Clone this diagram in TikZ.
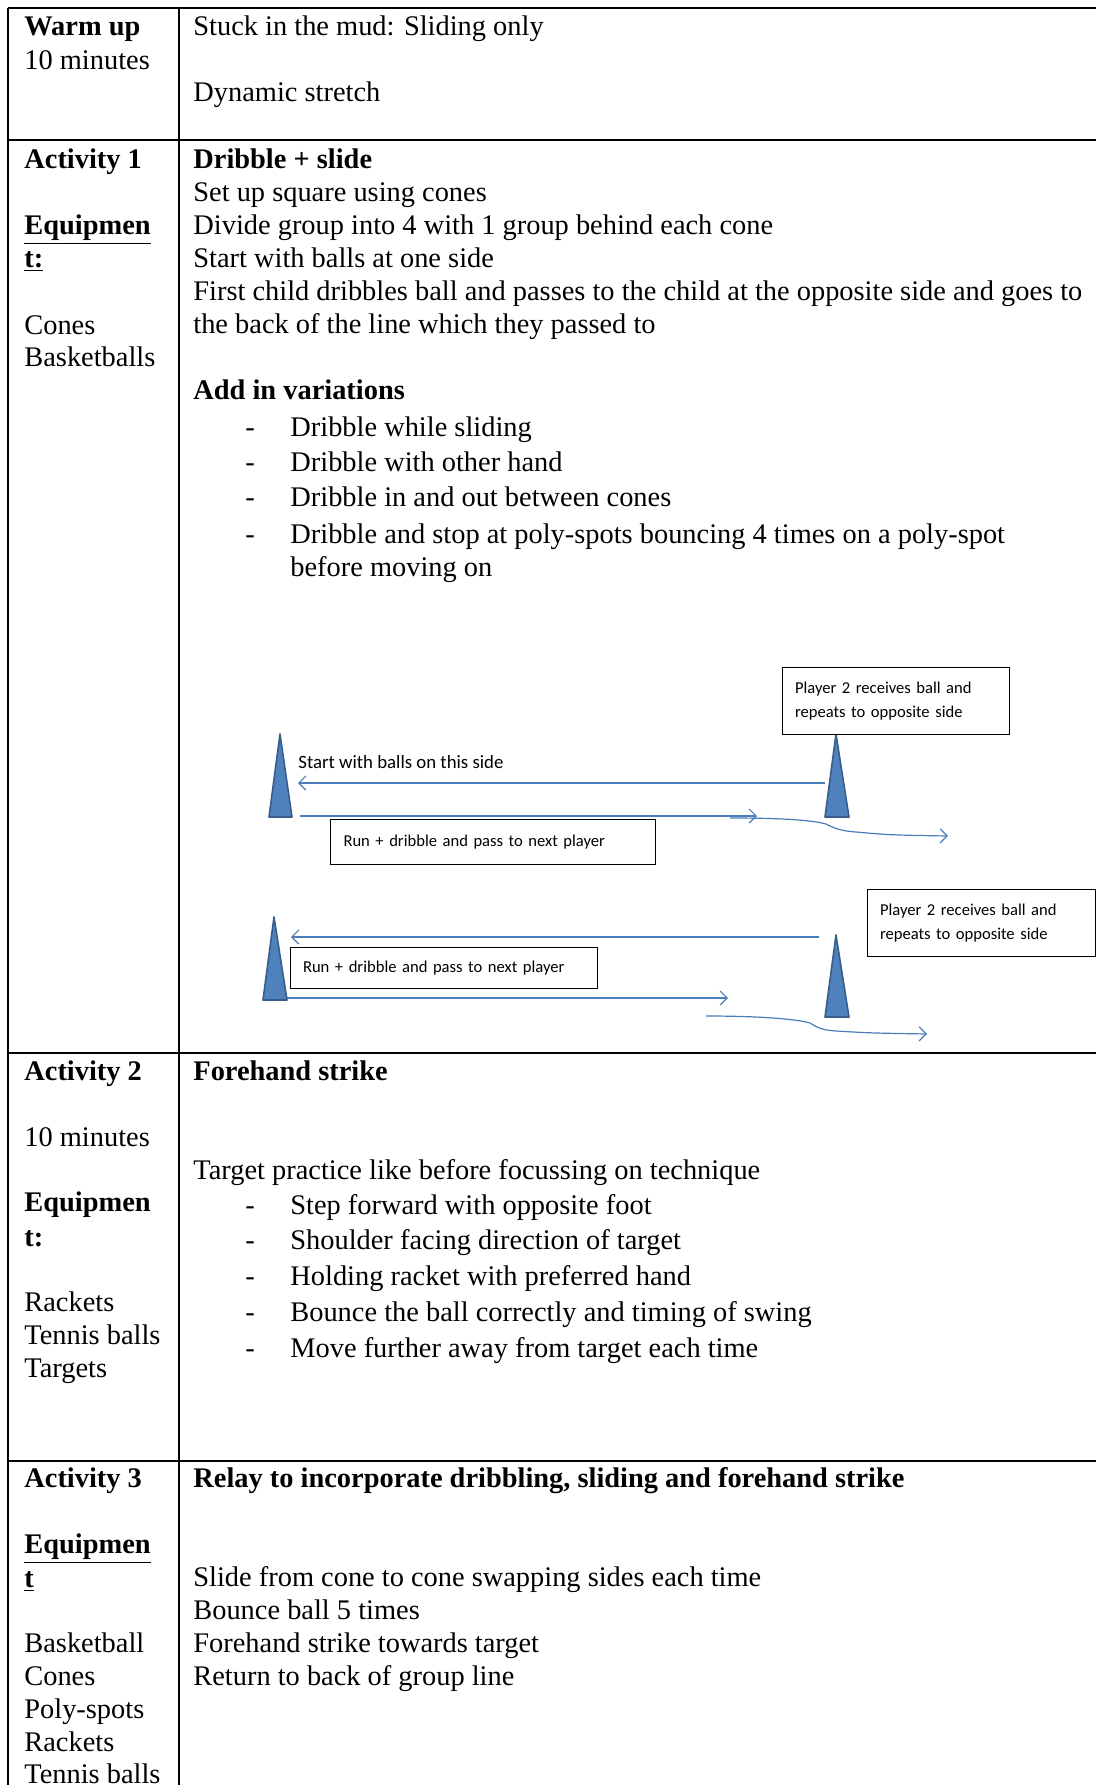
\documentclass[tikz,border=0pt]{standalone}
\usepackage{fontspec}
\setmainfont{Liberation Serif}
\newfontfamily\diagfont{Carlito}
\usetikzlibrary{arrows.meta}
\definecolor{coneblue}{HTML}{4F81BD}
\definecolor{coneedge}{HTML}{385D8A}
\definecolor{arrowblue}{HTML}{4A7EBB}
\newcommand\bodysize{\fontsize{14.2pt}{16.5pt}\selectfont}
\begin{document}
\begin{tikzpicture}[x=0.5pt,y=-0.5pt,
  rule/.style={line width=1.1pt,black},
  txt/.style={anchor=base west,inner sep=0pt,yshift=-1.2pt,font=\bodysize},
  cone/.style={fill=coneblue,draw=coneedge,line width=0.8pt,line join=round},
  flow/.style={draw=arrowblue,line width=0.6pt,-{Straight Barb[length=3.5pt,width=7pt]}},
  notebox/.style={draw=black,line width=0.5pt,fill=white,anchor=north west,
    align=left,inner xsep=6pt,inner ysep=0pt,font=\diagfont\fontsize{8.3pt}{12pt}\selectfont},
  starttxt/.style={anchor=west,inner sep=0pt,font=\diagfont\fontsize{9.4pt}{11pt}\selectfont}]
\useasboundingbox (0,0) rectangle (1096,1785);

% table rules
\draw[rule] (8,8) -- (1096,8);
\draw[rule] (8,140) -- (1096,140);
\draw[rule] (8,1053) -- (1096,1053);
\draw[rule] (8,1461) -- (1096,1461);
\draw[rule] (8,8) -- (8,1785);
\draw[rule] (179,8) -- (179,1785);

% warm up
\node[txt] (wu) at (24,33) {\textbf{Warm up}};
\node[txt] (wut) at (24,67) {10 minutes};
\node[txt] (wu1) at (193,33) {Stuck in the mud: Sliding only};
\node[txt] (wu2) at (193,99) {Dynamic stretch};

% activity 1
\node[txt] (a1) at (24,166) {\textbf{Activity 1}};
\node[txt] (a1e1) at (24,232) {\textbf{\underline{Equipmen}}};
\node[txt] (a1e2) at (24,265) {\textbf{\underline{t:}}};
\node[txt] (a1q1) at (24,332) {Cones};
\node[txt] (a1q2) at (24,364) {Basketballs};

\node[txt] (a1h) at (193,166) {\textbf{Dribble + slide}};
\node[txt] (a1l1) at (193,199) {Set up square using cones};
\node[txt] (a1l2) at (193,232) {Divide group into 4 with 1 group behind each cone};
\node[txt] (a1l3) at (193,265) {Start with balls at one side};
\node[txt] (a1l4) at (193,298) {First child dribbles ball and passes to the child at the opposite side and goes to};
\node[txt] (a1l5) at (193,331) {the back of the line which they passed to};
\node[txt] (a1v) at (193,397) {\textbf{Add in variations}};
\foreach \yy/\tt [count=\i] in {434/Dribble while sliding,469/Dribble with other hand,504/Dribble in and out between cones,541/Dribble and stop at poly-spots bouncing 4 times on a poly-spot}{
  \node[txt] (a1d\i) at (245,\yy) {-};
  \node[txt] (a1v\i) at (290,\yy) {\tt};
}
\node[txt] (a1v5) at (290,574) {before moving on};

% drill diagram, first pair of cones
\path[cone] (269,817) -- (280,734) -- (292,817) -- cycle;
\path[cone] (825,817) -- (836,734) -- (849,817) -- cycle;
\node[notebox,minimum width=113.5pt,minimum height=33.5pt,text width=101pt] (p2a) at (782,667)
  {Player 2 receives ball and\\repeats to opposite side};
\node[starttxt] (st) at (298,762) {Start with balls on this side};
\coordinate (r1a) at (825,783);
\coordinate (l1a) at (298,783);
\coordinate (l1b) at (300,816);
\coordinate (r1b) at (757,816);
\coordinate (c1s) at (730,818);
\coordinate (c1e) at (948,836);
\draw[flow] (r1a) -- (l1a);
\draw[flow] (l1b) -- (r1b);
\draw[flow] (c1s) .. controls (780,818) and (812,820) .. (826,824)
  .. controls (836,829) and (842,831) .. (856,832)
  .. controls (890,835) .. (c1e);
\node[notebox,minimum width=162.5pt,minimum height=22.5pt,text width=149.5pt] (run1) at (330,819)
  {Run + dribble and pass to next player};

% drill diagram, second pair of cones
\path[cone] (263,1000) -- (274,917) -- (287,1000) -- cycle;
\path[cone] (825,1017) -- (836,935) -- (849,1017) -- cycle;
\node[notebox,minimum width=114pt,minimum height=33.5pt,text width=101.5pt] (p2b) at (867,889)
  {Player 2 receives ball and\\repeats to opposite side};
\coordinate (r2a) at (819,937);
\coordinate (l2a) at (291,937);
\coordinate (l2b) at (287,998);
\coordinate (r2b) at (728,998);
\coordinate (c2s) at (706,1016);
\coordinate (c2e) at (927,1034);
\draw[flow] (r2a) -- (l2a);
\draw[flow] (l2b) -- (r2b);
\draw[flow] (c2s) .. controls (760,1016) and (796,1019) .. (810,1023)
  .. controls (818,1028) and (822,1030) .. (836,1031)
  .. controls (870,1033) .. (c2e);
\node[notebox,minimum width=153.5pt,minimum height=20.5pt,text width=141pt] (run2) at (290,947)
  {Run + dribble and pass to next player};

% activity 2
\node[txt] (a2) at (24,1078) {\textbf{Activity 2}};
\node[txt] (a2t) at (24,1144) {10 minutes};
\node[txt] (a2e1) at (24,1209) {\textbf{Equipmen}};
\node[txt] (a2e2) at (24,1244) {\textbf{t:}};
\node[txt] (a2q1) at (24,1309) {Rackets};
\node[txt] (a2q2) at (24,1342) {Tennis balls};
\node[txt] (a2q3) at (24,1375) {Targets};

\node[txt] (a2h) at (193,1078) {\textbf{Forehand strike}};
\node[txt] (a2l1) at (193,1177) {Target practice like before focussing on technique};
\foreach \yy/\tt [count=\i] in {1212/Step forward with opposite foot,1247/Shoulder facing direction of target,1283/Holding racket with preferred hand,1319/Bounce the ball correctly and timing of swing,1355/Move further away from target each time}{
  \node[txt] (a2d\i) at (245,\yy) {-};
  \node[txt] (a2v\i) at (290,\yy) {\tt};
}

% activity 3
\node[txt] (a3) at (24,1485) {\textbf{Activity 3}};
\node[txt] (a3e1) at (24,1551) {\textbf{\underline{Equipmen}}};
\node[txt] (a3e2) at (24,1585) {\textbf{\underline{t}}};
\node[txt] (a3q1) at (24,1650) {Basketball};
\node[txt] (a3q2) at (24,1683) {Cones};
\node[txt] (a3q3) at (24,1716) {Poly-spots};
\node[txt] (a3q4) at (24,1749) {Rackets};
\node[txt] (a3q5) at (24,1781) {Tennis balls};

\node[txt] (a3h) at (193,1485) {\textbf{Relay to incorporate dribbling, sliding and forehand strike}};
\node[txt] (a3l1) at (193,1584) {Slide from cone to cone swapping sides each time};
\node[txt] (a3l2) at (193,1617) {Bounce ball 5 times};
\node[txt] (a3l3) at (193,1650) {Forehand strike towards target};
\node[txt] (a3l4) at (193,1683) {Return to back of group line};
\end{tikzpicture}
\end{document}
